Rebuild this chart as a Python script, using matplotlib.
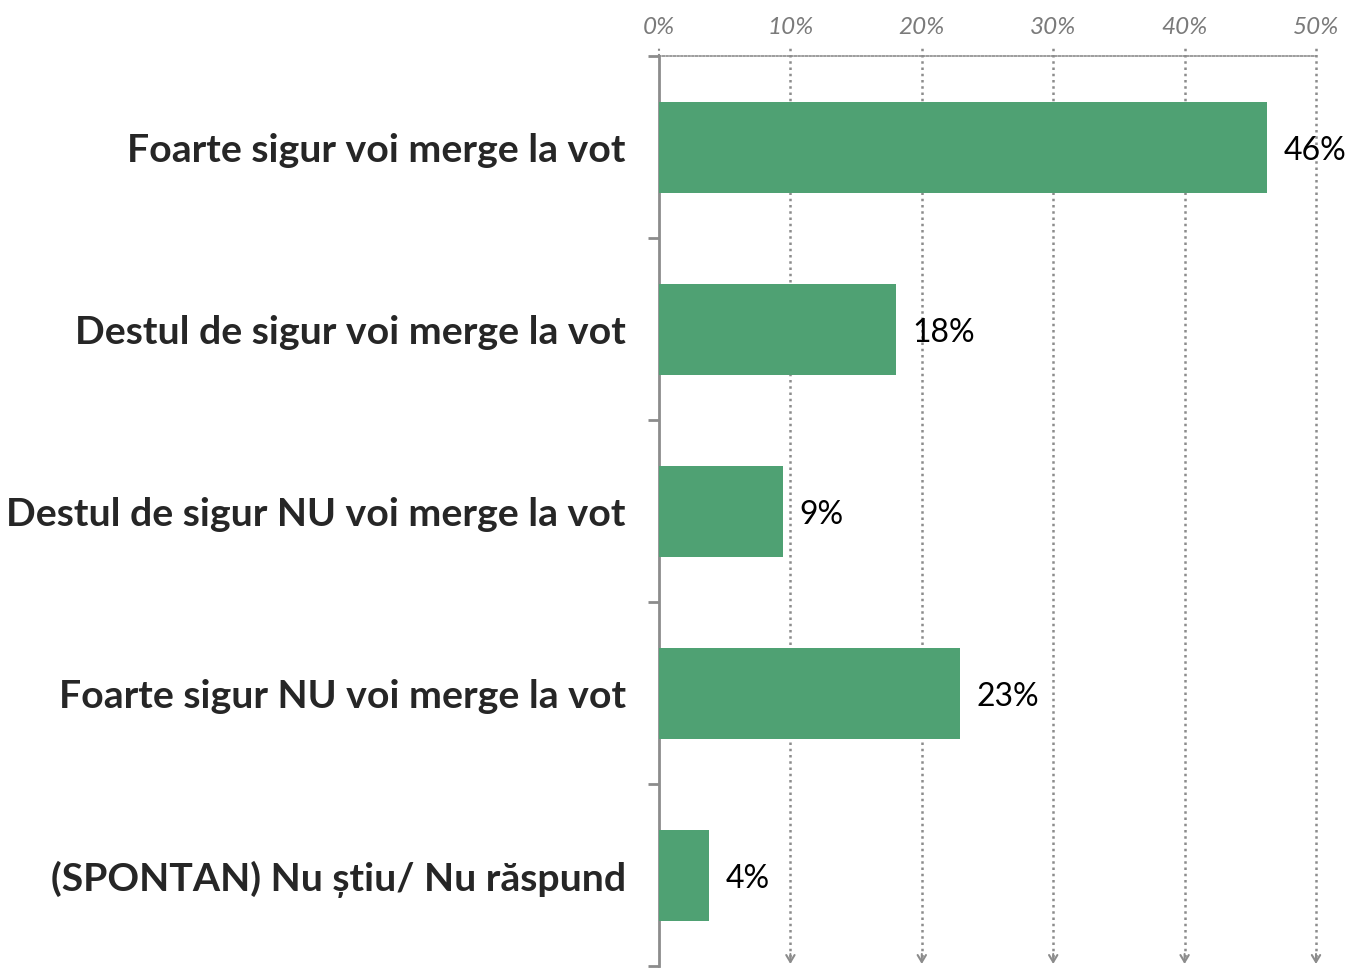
import matplotlib
matplotlib.use("Agg")
import matplotlib.pyplot as plt
import matplotlib.transforms as mtransforms

categories = [
    "Foarte sigur voi merge la vot",
    "Destul de sigur voi merge la vot",
    "Destul de sigur NU voi merge la vot",
    "Foarte sigur NU voi merge la vot",
    "(SPONTAN) Nu știu/ Nu răspund",
]
values = [46.3, 18.0, 9.4, 22.9, 3.8]
value_labels = ["46%", "18%", "9%", "23%", "4%"]
xticks = [0, 10, 20, 30, 40, 50]
xtick_labels = ["0%", "10%", "20%", "30%", "40%", "50%"]

GREEN = "#4fa173"
GRAY = "#8c8c8c"

W, H = 1348, 970
fig = plt.figure(figsize=(W / 100, H / 100), dpi=100)
ax = fig.add_axes([659 / W, 1 - 967 / H, (1316 - 659) / W, (967 - 57) / H])

y = list(range(len(categories)))
ax.barh(y, values, height=0.5, color=GREEN, zorder=3)
ax.set_xlim(0, 50)
ax.set_ylim(len(categories) - 0.5, -0.5)

# value labels
for yi, v, lab in zip(y, values, value_labels):
    ax.annotate(lab, xy=(v, yi), xytext=(12, -2), textcoords="offset points",
                va="center", ha="left", fontsize=23, family="Lato", color="black",
                zorder=5)

# spines
for s in ["right", "bottom"]:
    ax.spines[s].set_visible(False)
ax.spines["top"].set_color(GRAY)
ax.spines["top"].set_linestyle((0, (1, 1.2)))
ax.spines["top"].set_linewidth(1.2)
ax.spines["left"].set_color(GRAY)
ax.spines["left"].set_linewidth(2)

# x axis on top
ax.xaxis.tick_top()
ax.set_xticks(xticks)
ax.set_xticklabels(xtick_labels, family="Lato", style="italic", fontsize=17.5, color="#7a7a7a")
ax.tick_params(axis="x", length=0, pad=14)

# y axis
ax.set_yticks(y)
ax.set_yticklabels(categories, fontsize=28.3, fontweight="bold", color="#262626", family="Lato")
ax.set_yticks([i - 0.5 for i in range(len(categories) + 1)], minor=True)
ax.tick_params(axis="y", which="major", length=0, pad=24)
ax.tick_params(axis="y", which="minor", length=8, width=2, color=GRAY, direction="out")

# dotted vertical gridlines extending slightly above the top, with arrows at bottom
trans = mtransforms.blended_transform_factory(ax.transData, ax.transAxes)
for xt in xticks:
    top = 1 + 8 / 910
    if xt == 0:
        ax.plot([xt, xt], [1, top], transform=trans, color=GRAY, lw=1.5,
                linestyle=(0, (1, 1.5)), clip_on=False, zorder=2)
        continue
    ax.plot([xt, xt], [9 / 910, top], transform=trans, color=GRAY, lw=1.8,
            linestyle=(0, (1, 1.5)), clip_on=False, zorder=2)
    ax.annotate("", xy=(xt, 2 / 910), xytext=(xt, 12 / 910), xycoords=trans,
                textcoords=trans,
                arrowprops=dict(arrowstyle="->,head_length=0.5,head_width=0.3",
                                color=GRAY, lw=1.5, shrinkA=0, shrinkB=0),
                annotation_clip=False)

fig.savefig("out.png", dpi=100)
